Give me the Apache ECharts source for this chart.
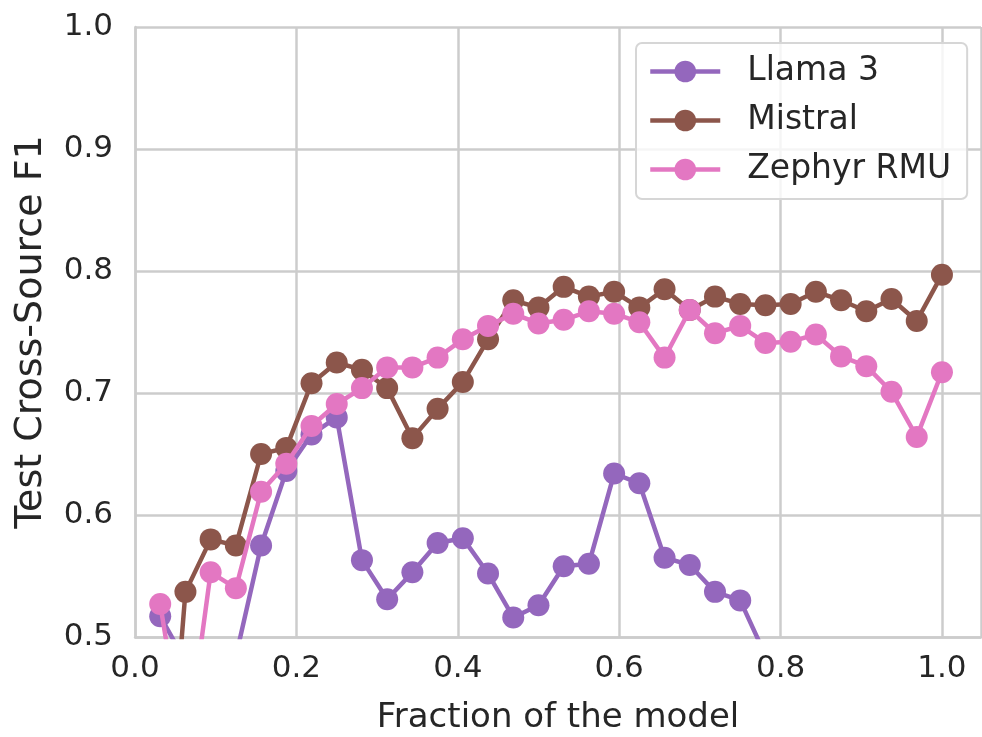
<!DOCTYPE html>
<html>
<head>
<meta charset="utf-8">
<script src="https://cdn.jsdelivr.net/npm/echarts@6/dist/echarts.min.js"></script>
<style>
  html, body { margin: 0; padding: 0; background: #ffffff; }
  #chart { width: 982px; height: 737px; }
</style>
</head>
<body>
<div id="chart"></div>
<script>
// Fraction of the model depth (layer / 32)
const fractions = [
  0.03125, 0.0625, 0.09375, 0.125, 0.15625, 0.1875, 0.21875, 0.25,
  0.28125, 0.3125, 0.34375, 0.375, 0.40625, 0.4375, 0.46875, 0.5,
  0.53125, 0.5625, 0.59375, 0.625, 0.65625, 0.6875, 0.71875, 0.75,
  0.78125, 0.8125, 0.84375, 0.875, 0.90625, 0.9375, 0.96875, 1.0
];

// Test cross-source F1 per layer
const llama3 = [
  0.517, 0.480, 0.470, 0.484, 0.575, 0.636, 0.666, 0.680,
  0.563, 0.531, 0.553, 0.577, 0.581, 0.552, 0.516, 0.526,
  0.558, 0.560, 0.634, 0.626, 0.565, 0.559, 0.537, 0.530,
  0.485, 0.470, 0.460, 0.455, 0.450, 0.445, 0.440, 0.430
];
const mistral = [
  0.280, 0.537, 0.580, 0.575, 0.650, 0.655, 0.708, 0.725,
  0.719, 0.704, 0.663, 0.687, 0.709, 0.744, 0.776, 0.770,
  0.787, 0.779, 0.783, 0.770, 0.785, 0.768, 0.779, 0.773,
  0.772, 0.773, 0.783, 0.776, 0.767, 0.777, 0.759, 0.797
];
const zephyrRmu = [
  0.527, 0.400, 0.553, 0.540, 0.619, 0.642, 0.673, 0.691,
  0.704, 0.721, 0.721, 0.729, 0.744, 0.755, 0.765, 0.757,
  0.760, 0.767, 0.765, 0.758, 0.729, 0.768, 0.749, 0.755,
  0.741, 0.742, 0.748, 0.730, 0.722, 0.701, 0.664, 0.717
];

const seriesNames = ['Llama 3', 'Mistral', 'Zephyr RMU'];
const seriesColors = ['#9467bd', '#8c564b', '#e377c2'];
const seriesValues = [llama3, mistral, zephyrRmu];

const xTicks = [0.0, 0.2, 0.4, 0.6, 0.8, 1.0];

const textColor = '#262626';
const gridColor = '#cccccc';
const fontFamily = "'DejaVu Sans', sans-serif";

const chart = echarts.init(document.getElementById('chart'), null, { renderer: 'canvas' });

const series = seriesNames.map((name, k) => ({
  name: name,
  type: 'line',
  data: fractions.map((x, i) => [x, seriesValues[k][i]]),
  symbol: 'circle',
  symbolSize: 22,
  showAllSymbol: true,
  clip: true,
  lineStyle: { color: seriesColors[k], width: 4.5 },
  itemStyle: { color: seriesColors[k] },
  emphasis: { disabled: true },
  z: 2 + k,
  animation: false
}));

const option = {
  backgroundColor: '#ffffff',
  animation: false,
  textStyle: { fontFamily: fontFamily, color: textColor },
  grid: {
    left: 135, top: 27, right: 1, bottom: 100,
    containLabel: false,
    outerBoundsMode: 'none'
  },
  xAxis: {
    type: 'value',
    min: 0,
    max: 1.0484,
    interval: 0.2,
    name: 'Fraction of the model',
    nameLocation: 'middle',
    nameGap: 64,
    nameTextStyle: { fontSize: 34, color: textColor, fontFamily: fontFamily },
    axisLine: { show: true, lineStyle: { color: gridColor, width: 2.5 } },
    axisTick: { show: false },
    axisLabel: {
      fontSize: 31,
      color: textColor,
      margin: 16,
      fontFamily: fontFamily,
      showMaxLabel: false,
      formatter: (v) => xTicks.some(t => Math.abs(t - v) < 1e-6) ? v.toFixed(1) : ''
    },
    splitLine: { show: true, lineStyle: { color: gridColor, width: 2.5 } }
  },
  yAxis: {
    type: 'value',
    min: 0.5,
    max: 1.0,
    interval: 0.1,
    name: 'Test Cross-Source F1',
    nameLocation: 'middle',
    nameGap: 85,
    nameTextStyle: { fontSize: 38, color: textColor, fontFamily: fontFamily },
    axisLine: { show: true, lineStyle: { color: gridColor, width: 2.5 } },
    axisTick: { show: false },
    axisLabel: {
      fontSize: 31,
      color: textColor,
      margin: 22,
      fontFamily: fontFamily,
      formatter: (v) => v.toFixed(1)
    },
    splitLine: { show: true, lineStyle: { color: gridColor, width: 2.5 } }
  },
  legend: {
    show: true,
    data: seriesNames,
    orient: 'vertical',
    left: 636,
    top: 43,
    padding: [11, 16, 12, 12],
    itemWidth: 70,
    itemHeight: 27,
    itemGap: 14,
    backgroundColor: 'rgba(255,255,255,0.8)',
    borderColor: '#d6d6d6',
    borderWidth: 2,
    borderRadius: 6,
    lineStyle: { width: 4.5 },
    textStyle: {
      fontSize: 33,
      color: textColor,
      fontFamily: fontFamily,
      lineHeight: 35,
      padding: [0, 0, 0, 22]
    }
  },
  series: series
};

chart.setOption(option);
</script>
</body>
</html>
